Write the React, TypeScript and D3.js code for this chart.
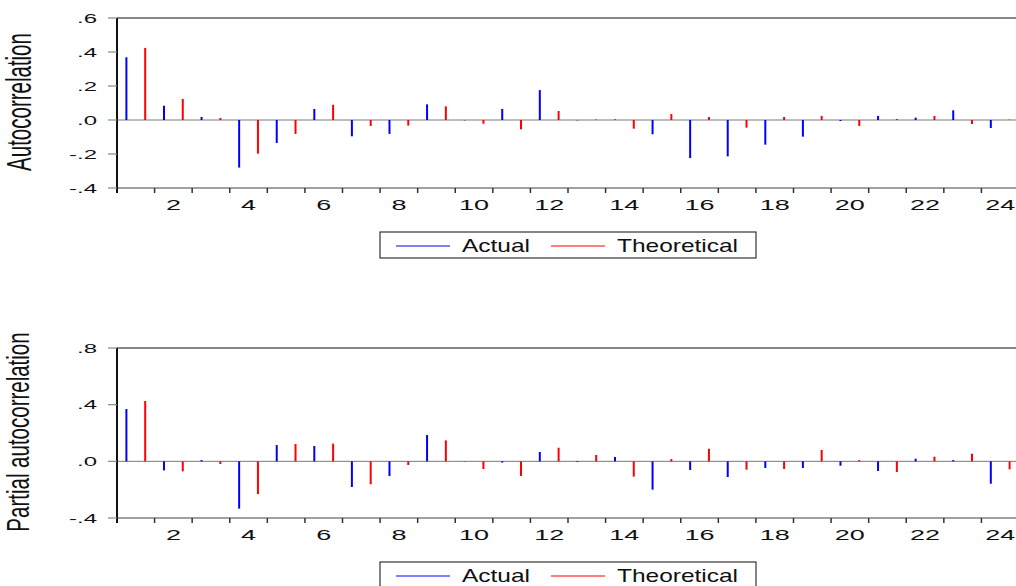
import * as d3 from "d3";
import { useEffect, useRef } from "react";

// lags 1..24
const lags = [1, 2, 3, 4, 5, 6, 7, 8, 9, 10, 11, 12, 13, 14, 15, 16, 17, 18, 19, 20, 21, 22, 23, 24];
const xTickLabels = [2, 4, 6, 8, 10, 12, 14, 16, 18, 20, 22, 24];

const acfActual = [0.369, 0.084, 0.018, -0.28, -0.135, 0.065, -0.096, -0.082, 0.092, -0.002, 0.065, 0.176,
    -0.002, 0.003, -0.084, -0.224, -0.214, -0.145, -0.098, -0.006, 0.024, 0.014, 0.057, -0.047];
const acfTheoretical = [0.424, 0.124, 0.012, -0.198, -0.082, 0.09, -0.035, -0.033, 0.08, -0.022, -0.055, 0.053,
    0.003, -0.051, 0.035, 0.018, -0.045, 0.018, 0.024, -0.035, 0.006, 0.024, -0.024, 0.002];
const pacfActual = [0.369, -0.064, 0.009, -0.334, 0.115, 0.108, -0.181, -0.104, 0.186, -0.002, -0.009, 0.066,
    -0.005, 0.031, -0.2, -0.061, -0.111, -0.047, -0.047, -0.031, -0.068, 0.019, 0.009, -0.158];
const pacfTheoretical = [0.426, -0.071, -0.019, -0.231, 0.122, 0.125, -0.162, -0.026, 0.148, -0.054, -0.104, 0.096,
    0.045, -0.108, 0.016, 0.089, -0.059, -0.054, 0.08, 0.009, -0.075, 0.033, 0.054, -0.056];

const acfTicks = [0.6, 0.4, 0.2, 0, -0.2, -0.4];
const pacfTicks = [0.8, 0.4, 0, -0.4];

const FONT = "'Liberation Sans', Arial, sans-serif";

const fmt = (v: number) => {
    if (Math.abs(v) < 1e-9) return ".0";
    const s = v.toFixed(1).replace("0.", ".");
    return s;
};

function drawPanel(svg: any, opts: any) {
    const { top, bottom, domain, ticks, actual, theoretical, title, titleY, titleX, titleScale, legendTop } = opts;
    const left = 117;
    const right = 1019;

    const x = d3.scaleBand<number>().domain(lags).range([left, right]).padding(0);
    const y = d3.scaleLinear().domain(domain).range([bottom, top]);
    const bw = x.bandwidth();

    const g = svg.append("g");

    // zero line
    g.append("line")
        .attr("x1", left).attr("x2", right)
        .attr("y1", y(0)).attr("y2", y(0))
        .attr("stroke", "#7a7a7a").attr("stroke-width", 1);

    // bars
    g.selectAll(".actual")
        .data(actual)
        .join("line")
        .attr("x1", (d: number, i: number) => x(lags[i])! + bw * 0.25)
        .attr("x2", (d: number, i: number) => x(lags[i])! + bw * 0.25)
        .attr("y1", y(0))
        .attr("y2", (d: number) => y(d))
        .attr("stroke", "#0000ff")
        .attr("stroke-width", 2);

    g.selectAll(".theo")
        .data(theoretical)
        .join("line")
        .attr("x1", (d: number, i: number) => x(lags[i])! + bw * 0.75)
        .attr("x2", (d: number, i: number) => x(lags[i])! + bw * 0.75)
        .attr("y1", y(0))
        .attr("y2", (d: number) => y(d))
        .attr("stroke", "#ff0000")
        .attr("stroke-width", 2);

    // frame
    g.append("line").attr("x1", left).attr("x2", right).attr("y1", top).attr("y2", top)
        .attr("stroke", "#111").attr("stroke-width", 1.2);
    g.append("line").attr("x1", left).attr("x2", right).attr("y1", bottom).attr("y2", bottom)
        .attr("stroke", "#444").attr("stroke-width", 1.2);
    g.append("line").attr("x1", left).attr("x2", left).attr("y1", top).attr("y2", bottom + 5)
        .attr("stroke", "#111").attr("stroke-width", 2);

    // y ticks
    ticks.forEach((t: number) => {
        g.append("line").attr("x1", left - 9).attr("x2", left).attr("y1", y(t)).attr("y2", y(t))
            .attr("stroke", "#888").attr("stroke-width", 1.2);
        g.append("text")
            .attr("transform", `translate(97,${y(t) + 4.5}) scale(2.0,1)`)
            .attr("text-anchor", "end")
            .attr("font-family", FONT)
            .attr("font-size", 12)
            .attr("fill", "#111")
            .text(fmt(t));
    });

    // x ticks at band boundaries
    lags.forEach((l) => {
        const xx = x(l)! + bw;
        g.append("line").attr("x1", xx).attr("x2", xx).attr("y1", bottom).attr("y2", bottom + 5)
            .attr("stroke", "#333").attr("stroke-width", 1.5);
    });
    xTickLabels.forEach((l) => {
        g.append("text")
            .attr("transform", `translate(${x(l)! + bw / 2},${bottom + 22}) scale(1.8,1)`)
            .attr("text-anchor", "middle")
            .attr("font-family", FONT)
            .attr("font-size", 15)
            .attr("fill", "#111")
            .text(l);
    });

    // y title
    g.append("text")
        .attr("transform", `translate(${titleX},${titleY}) scale(${titleScale},1) rotate(-90)`)
        .attr("text-anchor", "middle")
        .attr("font-family", FONT)
        .attr("font-size", 20.5)
        .attr("fill", "#111")
        .text(title);

    // legend
    const lg = svg.append("g");
    lg.append("rect")
        .attr("x", 380).attr("y", legendTop)
        .attr("width", 376).attr("height", 26)
        .attr("fill", "#fff").attr("stroke", "#333").attr("stroke-width", 1.2);
    const items = [
        { name: "Actual", color: "#0000ff", x0: 396, tx: 462 },
        { name: "Theoretical", color: "#ff0000", x0: 551, tx: 617 },
    ];
    items.forEach((it) => {
        lg.append("line").attr("x1", it.x0).attr("x2", it.x0 + 54)
            .attr("y1", legendTop + 14).attr("y2", legendTop + 14)
            .attr("stroke", it.color).attr("stroke-width", 1.2);
        lg.append("text")
            .attr("transform", `translate(${it.tx},${legendTop + 19.5}) scale(1.4,1)`)
            .attr("font-family", FONT)
            .attr("font-size", 17.5)
            .attr("fill", "#111")
            .text(it.name);
    });
}

export default function App() {
    const svgRef = useRef<SVGSVGElement>(null);
    useEffect(() => {
        const svg = d3.select(svgRef.current);
        svg.selectAll("*").remove();
        svg.append("rect").attr("width", 1016).attr("height", 586).attr("fill", "#fff");

        drawPanel(svg, {
            top: 18, bottom: 188, domain: [-0.4, 0.6], ticks: acfTicks,
            actual: acfActual, theoretical: acfTheoretical,
            title: "Autocorrelation", titleX: 31, titleY: 102, titleScale: 1.7, legendTop: 232,
        });
        drawPanel(svg, {
            top: 348, bottom: 518, domain: [-0.4, 0.8], ticks: pacfTicks,
            actual: pacfActual, theoretical: pacfTheoretical,
            title: "Partial autocorrelation", titleX: 29, titleY: 432, titleScale: 1.55, legendTop: 562,
        });
    }, []);

    return (
        <div>
            <svg ref={svgRef} width={1016} height={586}
                style={{ position: "absolute", left: 0, top: 0, display: "block" }} />
        </div>
    );
}
